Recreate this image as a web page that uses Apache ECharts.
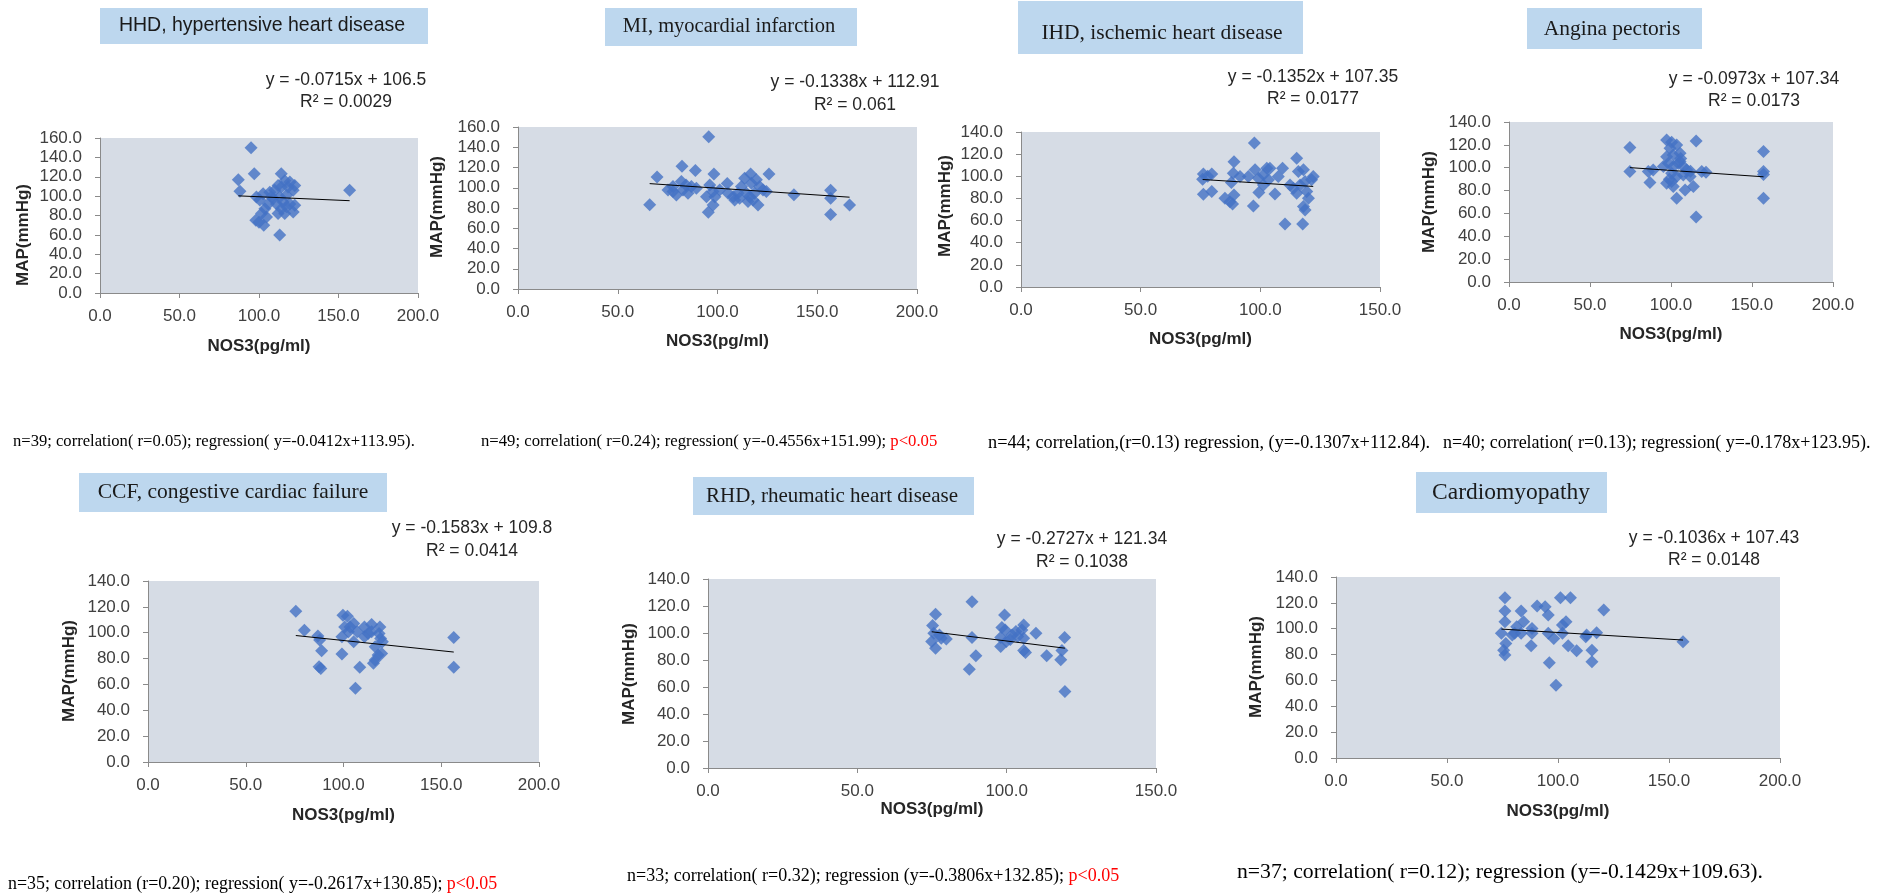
<!DOCTYPE html>
<html><head><meta charset="utf-8">
<script src="https://cdn.jsdelivr.net/npm/echarts@6/dist/echarts.min.js"></script>
<style>html,body{margin:0;padding:0;background:#fff}#c{width:1885px;height:895px}</style>
</head><body><div id="c"></div>
<script>
// ---------------- DATA ----------------
const panelTitles = ['HHD, hypertensive heart disease','MI, myocardial infarction','IHD, ischemic heart disease','Angina pectoris','CCF, congestive cardiac failure','RHD, rheumatic heart disease','Cardiomyopathy'];
const xAxisName = 'NOS3(pg/ml)';
const yAxisName = 'MAP(mmHg)';
const xMaxes = [200,200,150,200,200,150,200];
const yMaxes = [160,160,140,140,140,140,140];
const trendSlopes = [-0.0715,-0.1338,-0.1352,-0.0973,-0.1583,-0.2727,-0.1036];
const trendIntercepts = [106.5,112.91,107.35,107.34,109.8,121.34,107.43];
const r2Values = ['0.0029','0.061','0.0177','0.0173','0.0414','0.1038','0.0148'];

const hhdNos = [95,87,97,88,157,114,113,98,103,100,98.4,102.6,106.8,100.5,103.7,101.6,104.7,112,116.2,121.5,111,115.2,119.4,122.5,113.1,117.3,121.5,122.5,119.4,116.2,112,109.9,114.1,118.3,108.9,105.8,117.3,114.1,107.8];
const hhdMap = [150,117,123,105,106,123,60,75,70,73,99,102.5,104,96,87,82,78.5,82,82,83.5,92,94,92,90.5,99,101,106,111,114.5,116,111,106,109.5,109.5,97.5,92,89,87,99];

const miNos = [95.6,66,69.7,82.2,88.9,98.2,116.6,125.8,104.9,95.4,156.7,156.7,156.7,166.2,138.3,97.8,98.7,94.5,75.2,77.7,79.4,81.9,82.7,85.2,86.9,89.4,84.2,96.1,101.1,97.7,108.6,110.3,112,114.5,115.3,117,118.6,120.3,117.8,121.1,122.8,124.5,113.6,119.5,77.7,105.3,107.9,111.1,116.1];
const miMap = [150.4,83.3,110.7,121.3,117,113.7,113.7,113.7,104.1,75.7,97.5,89.6,73.7,83,93.2,83,91.2,91.2,97.9,96.2,92.9,106.1,97.9,94.5,101.2,99.5,102.8,102.8,97.9,96.2,87.9,94.5,101.2,94.5,86.3,104.5,94.5,83,87.9,101.2,97.9,96.2,109.4,107.8,101.2,94.5,91.2,89.6,91.2];

const ihdNos = [97.5,75.9,76.2,79.7,79.7,76.2,89,88.7,87.9,85.2,87.3,88.4,89,91.5,97.1,97.8,99.2,99.4,101.3,102.7,104,101.3,106.1,107.5,109.3,110.3,112.4,115.2,115.9,115.2,116.6,118,118.7,117.7,118,118.7,120.1,121.4,119.4,113.8,122.1,95,103.4,78];
const ihdMap = [130,97.4,102.1,102.1,86.2,83.8,113.1,102.8,94.3,80.1,77.1,74.9,83.1,99.8,73.2,105.8,98.3,85.3,101.3,107.3,107.3,92.2,84.1,99.8,107.3,56.8,92.2,116.4,104.3,84.7,92.2,105.8,95.3,56.8,72.6,69.5,80.1,96.8,86.2,89.2,99.8,99.8,96.8,100];

const apNos = [74.6,74.6,87,86,89,97.3,103.5,115.5,157.1,157.1,157.1,157.1,115.5,103.5,108.7,113.8,119,121.6,97.3,100.4,97.3,99.4,101.4,105.6,98.4,101.4,104.5,107.6,109.7,95.3,100.4,103.5,107.6,111.8,101.4,105.6,100.4,112,99,106];
const apMap = [117.6,96.6,87,96.6,98.1,124.3,119.9,123.4,114.1,96.6,94,73.3,56.8,73.3,80.6,83.5,96.6,96,86.4,87.9,109.7,117,111.2,112.6,103.9,101,103.9,101,98.1,101,95.2,92.3,93.7,92.3,83.5,105.4,122.2,97,90,108];

const ccfNos = [75.6,80,86.9,87.8,88.8,87.5,88.4,99.2,99.2,99.7,102,100.6,105.2,105.2,106.1,108.3,107,110.7,110.7,114.4,114.4,115.3,116.2,117.7,118.6,119,119.9,118.2,156.4,156.4,119.5,102.5,116.2,112.6,103.4];
const ccfMap = [116.6,102,97.4,94.3,86,73.7,72.4,83.5,96.8,113.5,112.8,104.5,107.1,93,57,73.2,100.7,104.5,96.8,106.3,100.7,76.3,78.9,82.7,104.5,95.6,93,99.4,96.3,73.2,84,100.7,89.1,99.4,104.5];

const rhdNos = [76.2,75.2,75.6,74.9,76.2,78.1,79.8,88.4,88.4,89.7,87.5,99.3,98.4,98,98,99.9,101.8,103.1,105.7,105.1,105.7,106.3,105.7,109.8,113.4,119.4,118.5,118.1,119.5,101.2,103.7,77.5,99.5];
const rhdMap = [113.9,105.5,99.8,93.7,88.7,96.1,95.6,123.2,96.6,83.1,73.2,113.4,104,96.6,90,93.7,98.6,101.1,106,102.3,96.1,85.5,87,99.8,83.1,96.6,87,80.1,56.7,95.1,97.4,98.6,102.3];

const cmNos = [76.1,76.1,76.1,74.5,76.5,75.5,76.1,83.4,84.5,83.4,80.5,88.3,87.9,90.6,94.2,95.6,95.6,98.1,96.1,99.1,101.1,105.6,103.6,102,102,104.6,108.4,112.5,115.3,115.3,117.4,120.6,156.3,88.3,81.4,79.4,112.9];
const cmMap = [124,113.7,105.4,96.4,88.6,83.4,79.6,113.7,105.4,96.4,96.4,96.4,86.8,117.5,117,110.6,96.4,92.5,73.6,56.3,124,124,105.4,102.8,96.4,86.8,82.9,93.8,83.4,74.4,96.9,114.4,89.9,100.2,101.5,95.1,95.1];

const footerTexts = [
  'n=39; correlation( r=0.05); regression( y=-0.0412x+113.95).',
  'n=49; correlation( r=0.24); regression( y=-0.4556x+151.99); {r|p<0.05}',
  'n=44; correlation,(r=0.13) regression, (y=-0.1307x+112.84).',
  'n=40; correlation( r=0.13); regression( y=-0.178x+123.95).',
  'n=35; correlation (r=0.20); regression( y=-0.2617x+130.85); {r|p<0.05}',
  'n=33; correlation( r=0.32); regression (y=-0.3806x+132.85); {r|p<0.05}',
  'n=37; correlation( r=0.12); regression (y=-0.1429x+109.63).'
];

const xsAll = [hhdNos, miNos, ihdNos, apNos, ccfNos, rhdNos, cmNos];
const ysAll = [hhdMap, miMap, ihdMap, apMap, ccfMap, rhdMap, cmMap];

// ---------------- LAYOUT ----------------
const gridBoxes = [
  {left:100, top:138, width:318, height:155},
  {left:518, top:127, width:399, height:162},
  {left:1021, top:132, width:359, height:155},
  {left:1509, top:122, width:324, height:160},
  {left:148, top:581, width:391, height:181},
  {left:708, top:579, width:448, height:189},
  {left:1336, top:577, width:444, height:181}
];
const titleBoxes = [[100,8,328,36],[605,8,252,38],[1018,1,285,53],[1527,8,175,41],[79,473,308,39],[693,477,281,38],[1416,472,191,41]];
const titleCenters = [[262,26],[729,27],[1162,33],[1612,29],[233,492],[832,496],[1511,493]];
const titleFonts = [['Liberation Sans',19.5],['Liberation Serif',20.5],['Liberation Serif',21.5],['Liberation Serif',21.5],['Liberation Serif',21.5],['Liberation Serif',21],['Liberation Serif',23.5]];
const eqPos = [[346,80,102],[855,82,105],[1313,77,99],[1754,79,101],[472,528,551],[1082,539,562],[1714,538,560]];
const yNamePos = [[23,235],[437,207],[945,206],[1429,202],[69,671],[629,674],[1256,667]];
const xNameGaps = [45,44,44,44,45,30,45];
const footerPos = [[13,442,16.6],[481,442,16.7],[988,443,18.3],[1443,443,18],[8,884,17.9],[627,876,18],[1237,872,21.7]];

const SANS = 'Liberation Sans';
const axisCol = '#8a8a8a';
const grid = [], xAxis = [], yAxis = [], series = [], graphic = [];

for (let i = 0; i < 7; i++) {
  grid.push(Object.assign({show:true, backgroundColor:'#D6DCE5', borderWidth:0}, gridBoxes[i]));
  xAxis.push({
    gridIndex:i, type:'value', min:0, max:xMaxes[i], interval:50,
    axisLine:{show:true, onZero:false, lineStyle:{color:axisCol, width:1}},
    axisTick:{show:true, length:5, lineStyle:{color:axisCol}},
    splitLine:{show:false},
    axisLabel:{formatter:v => v.toFixed(1), margin:15, fontSize:17, fontFamily:SANS, color:'#404040'},
    name:xAxisName, nameLocation:'middle', nameGap:xNameGaps[i],
    nameTextStyle:{fontWeight:'bold', fontSize:17, fontFamily:SANS, color:'#262626'}
  });
  yAxis.push({
    gridIndex:i, type:'value', min:0, max:yMaxes[i], interval:20,
    axisLine:{show:true, onZero:false, lineStyle:{color:axisCol, width:1}},
    axisTick:{show:true, length:5, lineStyle:{color:axisCol}},
    splitLine:{show:false},
    axisLabel:{formatter:v => v.toFixed(1), margin:18, fontSize:17, fontFamily:SANS, color:'#404040'}
  });
  const xs = xsAll[i], ys = ysAll[i];
  series.push({
    type:'scatter', xAxisIndex:i, yAxisIndex:i, symbol:'diamond', symbolSize:13,
    itemStyle:{color:'#4472C4'}, silent:true,
    data: xs.map((x, k) => [x, ys[k]])
  });
  const xmin = Math.min(...xs), xmax = Math.max(...xs);
  series.push({
    type:'line', xAxisIndex:i, yAxisIndex:i, showSymbol:false, silent:true, z:3,
    lineStyle:{color:'#000', width:1},
    data:[[xmin, trendSlopes[i]*xmin + trendIntercepts[i]], [xmax, trendSlopes[i]*xmax + trendIntercepts[i]]]
  });
  const tb = titleBoxes[i];
  graphic.push({type:'rect', shape:{x:tb[0], y:tb[1], width:tb[2], height:tb[3]}, style:{fill:'#BDD7EE'}, silent:true});
  graphic.push({type:'text', x:titleCenters[i][0], y:titleCenters[i][1], silent:true,
    style:{text:panelTitles[i], fontFamily:titleFonts[i][0], fontSize:titleFonts[i][1], fill:'#1a1a1a', textAlign:'center', textVerticalAlign:'middle'}});
  const ep = eqPos[i];
  graphic.push({type:'text', x:ep[0], y:ep[1], silent:true,
    style:{text:'y = ' + trendSlopes[i] + 'x + ' + trendIntercepts[i], fontFamily:SANS, fontSize:17.5, fill:'#262626', textAlign:'center', textVerticalAlign:'middle'}});
  graphic.push({type:'text', x:ep[0], y:ep[2], silent:true,
    style:{text:'R² = ' + r2Values[i], fontFamily:SANS, fontSize:17.5, fill:'#262626', textAlign:'center', textVerticalAlign:'middle'}});
  graphic.push({type:'text', x:yNamePos[i][0], y:yNamePos[i][1], rotation:Math.PI/2, silent:true,
    style:{text:yAxisName, fontFamily:SANS, fontSize:17, fontWeight:'bold', fill:'#262626', textAlign:'center', textVerticalAlign:'middle'}});
  const fp = footerPos[i];
  graphic.push({type:'text', x:fp[0], y:fp[1], silent:true,
    style:{text:footerTexts[i], fontFamily:'Liberation Serif', fontSize:fp[2], fill:'#000', textAlign:'left', textVerticalAlign:'middle',
      rich:{r:{fill:'#ff0000', fontFamily:'Liberation Serif', fontSize:fp[2]}}}});
}

const chart = echarts.init(document.getElementById('c'), null, {renderer:'canvas'});
chart.setOption({animation:false, backgroundColor:'#fff', grid, xAxis, yAxis, series, graphic});
</script>
</body></html>
